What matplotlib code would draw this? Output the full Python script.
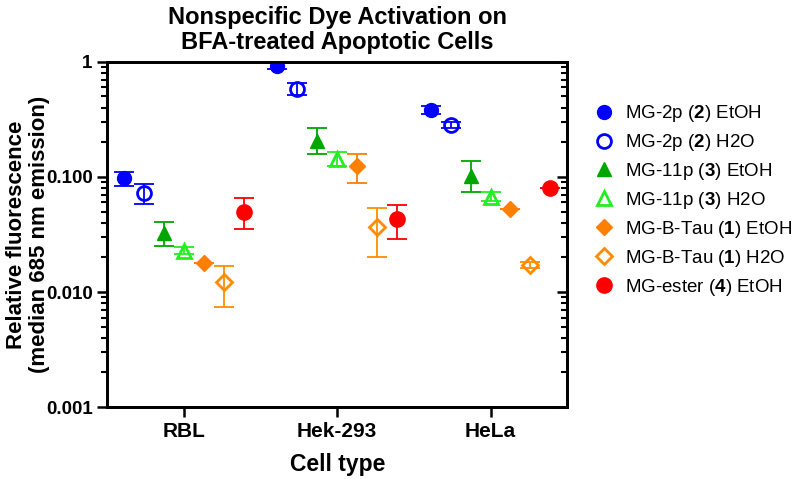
import matplotlib.pyplot as plt
import numpy as np
from matplotlib.lines import Line2D

plt.rcParams['font.family'] = ['Liberation Sans', 'DejaVu Sans']
plt.rcParams['mathtext.fontset'] = 'custom'
plt.rcParams['mathtext.rm'] = 'Liberation Sans'
plt.rcParams['mathtext.bf'] = 'Liberation Sans:bold'

# ---------------------------------------------------------------------------
# data
# ---------------------------------------------------------------------------
cell_types = ['RBL', 'Hek-293', 'HeLa']

series_labels = [
    r'MG-2p ($\mathbf{2}$) EtOH',
    r'MG-2p ($\mathbf{2}$) H2O',
    r'MG-11p ($\mathbf{3}$) EtOH',
    r'MG-11p ($\mathbf{3}$) H2O',
    r'MG-B-Tau ($\mathbf{1}$) EtOH',
    r'MG-B-Tau ($\mathbf{1}$) H2O',
    r'MG-ester ($\mathbf{4}$) EtOH',
]

# median values per cell type (RBL, Hek-293, HeLa)
mg2p_etoh = [0.098, 0.92, 0.383]
mg2p_h2o = [0.073, 0.58, 0.283]
mg11p_etoh = [0.0326, 0.206, 0.102]
mg11p_h2o = [0.0227, 0.143, 0.067]
mgbtau_etoh = [0.0179, 0.125, 0.0527]
mgbtau_h2o = [0.0123, 0.0367, 0.0172]
mgester_etoh = [0.050, 0.043, 0.080]

# error bar ends (lower, upper)
mg2p_etoh_lo = [0.083, 0.86, 0.355]
mg2p_etoh_hi = [0.110, 0.98, 0.410]
mg2p_h2o_lo = [0.058, 0.51, 0.268]
mg2p_h2o_hi = [0.087, 0.66, 0.298]
mg11p_etoh_lo = [0.025, 0.159, 0.074]
mg11p_etoh_hi = [0.0405, 0.267, 0.138]
mg11p_h2o_lo = [0.0215, 0.125, 0.062]
mg11p_h2o_hi = [0.0245, 0.165, 0.074]
mgbtau_etoh_lo = [0.0179, 0.089, 0.0527]
mgbtau_etoh_hi = [0.0179, 0.159, 0.0527]
mgbtau_h2o_lo = [0.0074, 0.0203, 0.0162]
mgbtau_h2o_hi = [0.0168, 0.0537, 0.0182]
mgester_etoh_lo = [0.035, 0.029, 0.080]
mgester_etoh_hi = [0.066, 0.0572, 0.080]

values = [mg2p_etoh, mg2p_h2o, mg11p_etoh, mg11p_h2o,
          mgbtau_etoh, mgbtau_h2o, mgester_etoh]
lows = [mg2p_etoh_lo, mg2p_h2o_lo, mg11p_etoh_lo, mg11p_h2o_lo,
        mgbtau_etoh_lo, mgbtau_h2o_lo, mgester_etoh_lo]
highs = [mg2p_etoh_hi, mg2p_h2o_hi, mg11p_etoh_hi, mg11p_h2o_hi,
         mgbtau_etoh_hi, mgbtau_h2o_hi, mgester_etoh_hi]

# ---------------------------------------------------------------------------
# styles
# ---------------------------------------------------------------------------
colors = ['#0000FF', '#0000FF', '#00A600', '#22EE22',
          '#FF8000', '#FF8C00', '#FF0000']
markers = ['o', 'o', '^', '^', 'D', 'D', 'o']
filled = [True, False, True, False, True, False, True]
msizes = [10, 10, 10, 10, 8, 8, 11]

fig = plt.figure(figsize=(8, 4.79), dpi=100)
ax = fig.add_axes([0.134, 0.150, 0.575, 0.721])

x = np.arange(len(cell_types))
step = 0.13
handles = []
for i in range(len(values)):
    xs = x + (i - 3) * step
    v = np.array(values[i])
    lo = v - np.array(lows[i])
    hi = np.array(highs[i]) - v
    mfc = colors[i] if filled[i] else 'none'
    mew = 2 if not filled[i] else 1
    ax.errorbar(xs, v, yerr=[lo, hi], fmt='none', ecolor=colors[i],
                elinewidth=1.3, capsize=7, capthick=1.3, zorder=2)
    ax.plot(xs, v, linestyle='none', marker=markers[i], markersize=msizes[i],
            markerfacecolor=mfc, markeredgecolor=colors[i],
            markeredgewidth=mew, zorder=3)
    handles.append(Line2D([], [], linestyle='none', marker=markers[i],
                          markersize=msizes[i], markerfacecolor=mfc,
                          markeredgecolor=colors[i], markeredgewidth=mew,
                          label=series_labels[i]))

ax.set_yscale('log')
ax.set_ylim(0.001, 1)
ax.set_xlim(-0.5, 2.5)
ax.set_yticks([0.001, 0.01, 0.1, 1])
ax.set_yticklabels(['0.001', '0.010', '0.100', '1'])
ax.set_xticks(x)
ax.set_xticklabels(cell_types)

for s in ax.spines.values():
    s.set_linewidth(2)

ax.tick_params(axis='y', which='major', length=7, width=1.8, labelsize=13.5,
               direction='out', right=False)
ax.tick_params(axis='y', which='minor', length=4, width=1.5,
               direction='out', right=False)
ax.tick_params(axis='x', which='major', length=7, width=1.8, labelsize=15,
               pad=4, top=False)
ax.tick_params(axis='x', which='minor', bottom=False, top=False)

# right-hand axis: same scale, ticks pointing inward, no labels
ax_r = ax.twinx()
ax_r.set_yscale('log')
ax_r.set_ylim(ax.get_ylim())
ax_r.set_yticks([0.001, 0.01, 0.1, 1])
ax_r.tick_params(axis='y', which='major', length=7, width=1.8,
                 direction='in', labelright=False)
ax_r.tick_params(axis='y', which='minor', length=4, width=1.5,
                 direction='in', labelright=False)
for s in ax_r.spines.values():
    s.set_linewidth(2)

for lab in ax.get_xticklabels() + ax.get_yticklabels():
    lab.set_fontweight('bold')

ax.set_xlabel('Cell type', fontsize=16.5, fontweight='bold', labelpad=8)
ax.set_ylabel('Relative fluorescence\n(median 685 nm emission)', fontsize=16,
              fontweight='bold', linespacing=1.1, va='center')
ax.yaxis.set_label_coords(-0.172, 0.5)
ax.set_title('Nonspecific Dye Activation on\nBFA-treated Apoptotic Cells',
             fontsize=17, fontweight='bold', pad=9, linespacing=1.1)

fig.legend(handles=handles, loc='upper left', bbox_to_anchor=(0.731, 0.800),
           frameon=False, fontsize=13.5, handletextpad=0.55,
           labelspacing=0.42, handlelength=1.2, borderaxespad=0)

fig.savefig('out.png', dpi=100)
